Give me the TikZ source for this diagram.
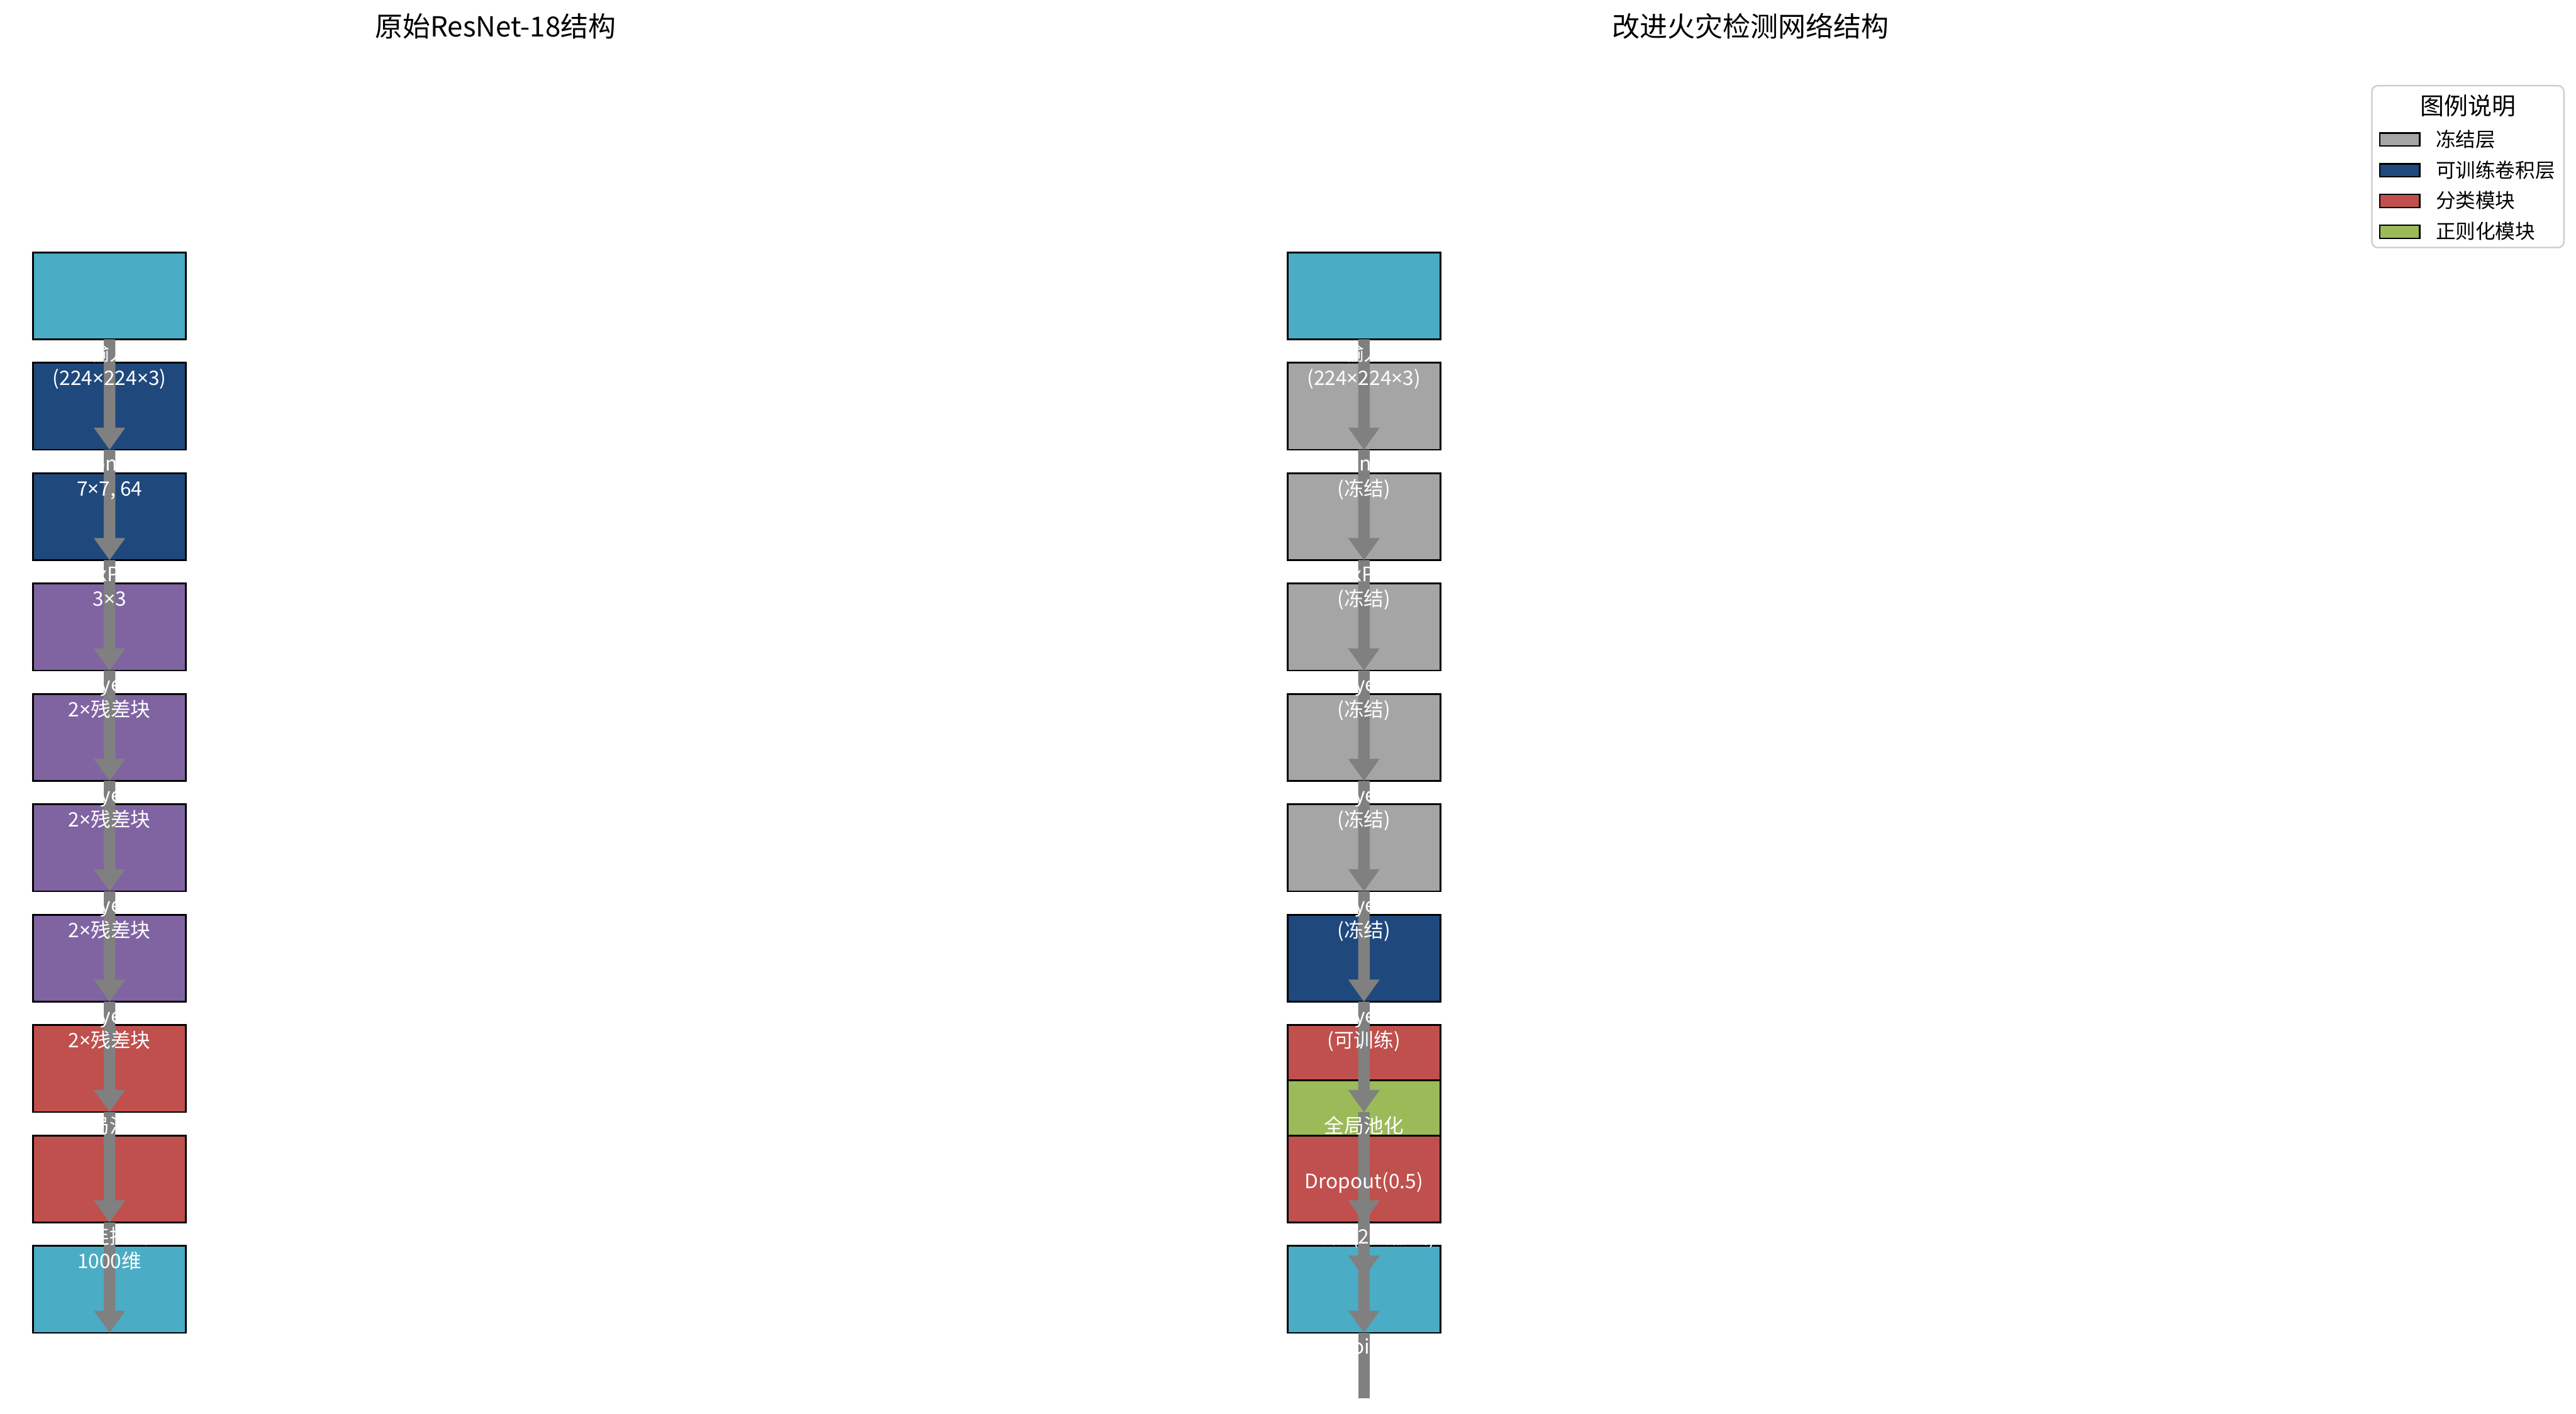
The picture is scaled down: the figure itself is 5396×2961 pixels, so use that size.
\documentclass[tikz,border=0pt]{standalone}
\usepackage{fontspec}
\setmainfont{Noto Sans CJK SC}
\newfontfamily\latinx{Noto Sans}
\usetikzlibrary{calc}
\definecolor{cCyan}{HTML}{4BACC6}
\definecolor{cBlue}{HTML}{1F497D}
\definecolor{cPurple}{HTML}{8064A2}
\definecolor{cRed}{HTML}{C0504D}
\definecolor{cGreen}{HTML}{9BBB59}
\definecolor{cGray}{HTML}{A5A5A5}
\definecolor{cFlow}{HTML}{808080}
\definecolor{cLegEdge}{HTML}{CCCCCC}
\newcommand\lblfont{\fontsize{41.7}{50}\selectfont}
\newcommand\ttlfont{\fontsize{58}{70}\selectfont}
\newcommand\legttlfont{\fontsize{50}{60}\selectfont}
\newcommand\tms{{\latinx ×}}
\newcommand\flowarr[2]{\fill[cFlow] ($(#1)+(-12,0)$) -- ($(#2)+(-12,-46)$) -- ($(#2)+(-33,-46)$) -- (#2) -- ($(#2)+(33,-46)$) -- ($(#2)+(12,-46)$) -- ($(#1)+(12,0)$) -- cycle;}
\begin{document}
\begin{tikzpicture}[x=1pt,y=-1pt,
  blk/.style={draw=black, line width=3.5pt, minimum width=320pt, minimum height=182pt, inner sep=0pt, outer sep=0pt},
  lab/.style={text=white, font=\lblfont, anchor=base, inner sep=0pt},
  ttl/.style={text=black, font=\ttlfont, anchor=base, inner sep=0pt},
  legpatch/.style={draw=black, line width=3.5pt, minimum width=83.5pt, minimum height=27.5pt, inner sep=0pt, outer sep=0pt},
  legtxt/.style={text=black, font=\lblfont, anchor=base west, inner sep=0pt},
  legttl/.style={text=black, font=\legttlfont, anchor=base, inner sep=0pt}]
\fill[white] (0,0) rectangle (5396,2961);
\useasboundingbox (0,0) rectangle (5396,2961);

% ---- titles
\node[ttl] (t1) at (1038,77) {原始ResNet-18结构};
\node[ttl] (t2) at (3667,77) {改进火灾检测网络结构};

% ---- left column boxes
\node[blk,fill=cCyan]   (l0) at (229.5,619.5) {};
\node[blk,fill=cBlue]   (l1) at (229.5,850.7) {};
\node[blk,fill=cBlue]   (l2) at (229.5,1081.9) {};
\node[blk,fill=cPurple] (l3) at (229.5,1313.1) {};
\node[blk,fill=cPurple] (l4) at (229.5,1544.3) {};
\node[blk,fill=cPurple] (l5) at (229.5,1775.5) {};
\node[blk,fill=cPurple] (l6) at (229.5,2006.7) {};
\node[blk,fill=cRed]    (l7) at (229.5,2237.9) {};
\node[blk,fill=cRed]    (l8) at (229.5,2469.1) {};
\node[blk,fill=cCyan]   (l9) at (229.5,2700.3) {};

% ---- right column boxes
\node[blk,fill=cCyan]  (r0) at (2857,619.5) {};
\node[blk,fill=cGray]  (r1) at (2857,850.7) {};
\node[blk,fill=cGray]  (r2) at (2857,1081.9) {};
\node[blk,fill=cGray]  (r3) at (2857,1313.1) {};
\node[blk,fill=cGray]  (r4) at (2857,1544.3) {};
\node[blk,fill=cGray]  (r5) at (2857,1775.5) {};
\node[blk,fill=cBlue]  (r6) at (2857,2006.7) {};
\node[blk,fill=cRed]   (r7) at (2857,2237.9) {};
\node[blk,fill=cGreen] (rd) at (2857,2353.5) {};
\node[blk,fill=cRed]   (r8) at (2857,2469.1) {};
\node[blk,fill=cCyan]  (r9) at (2857,2700.3) {};

% ---- left arrows
\flowarr{l0.south}{l1.south}
\flowarr{l1.south}{l2.south}
\flowarr{l2.south}{l3.south}
\flowarr{l3.south}{l4.south}
\flowarr{l4.south}{l5.south}
\flowarr{l5.south}{l6.south}
\flowarr{l6.south}{l7.south}
\flowarr{l7.south}{l8.south}
\flowarr{l8.south}{l9.south}

% ---- right arrows
\coordinate (rdtip) at ($(rd.south)+(0,231.2)$);
\coordinate (rend) at (2857,2929);
\flowarr{r0.south}{r1.south}
\flowarr{r1.south}{r2.south}
\flowarr{r2.south}{r3.south}
\flowarr{r3.south}{r4.south}
\flowarr{r4.south}{r5.south}
\flowarr{r5.south}{r6.south}
\flowarr{r6.south}{r7.south}
\flowarr{r7.south}{r8.south}
\flowarr{rd.south}{rdtip}
\flowarr{r8.south}{r9.south}
\fill[cFlow] ($(r9.south)+(-12,0)$) rectangle ($(rend)+(12,0)$);

% ---- left labels
\node[lab] (la0) at (229.5,755.2) {输入};
\node[lab] (lb0) at (229.5,807.2) {(224\tms{}224\tms{}3)};
\node[lab] (la1) at (229.5,986.4) {Conv1};
\node[lab] (lb1) at (229.5,1038.4) {7\tms{}7, 64};
\node[lab] (la2) at (229.5,1217.6) {MaxPool};
\node[lab] (lb2) at (229.5,1269.6) {3\tms{}3};
\node[lab] (la3) at (229.5,1448.8) {Layer1};
\node[lab] (lb3) at (229.5,1500.8) {2\tms{}残差块};
\node[lab] (la4) at (229.5,1680) {Layer2};
\node[lab] (lb4) at (229.5,1732) {2\tms{}残差块};
\node[lab] (la5) at (229.5,1911.2) {Layer3};
\node[lab] (lb5) at (229.5,1963.2) {2\tms{}残差块};
\node[lab] (la6) at (229.5,2142.4) {Layer4};
\node[lab] (lb6) at (229.5,2194.4) {2\tms{}残差块};
\node[lab] (la7) at (229.5,2373.6) {全局池化};
\node[lab] (la8) at (229.5,2604.8) {全连接层};
\node[lab] (lb8) at (229.5,2656.8) {1000维};

% ---- right labels
\node[lab] (ra0) at (2857,755.2) {输入};
\node[lab] (rb0) at (2857,807.2) {(224\tms{}224\tms{}3)};
\node[lab] (ra1) at (2857,986.4) {Conv1};
\node[lab] (rb1) at (2857,1038.4) {(冻结)};
\node[lab] (ra2) at (2857,1217.6) {MaxPool};
\node[lab] (rb2) at (2857,1269.6) {(冻结)};
\node[lab] (ra3) at (2857,1448.8) {Layer1};
\node[lab] (rb3) at (2857,1500.8) {(冻结)};
\node[lab] (ra4) at (2857,1680) {Layer2};
\node[lab] (rb4) at (2857,1732) {(冻结)};
\node[lab] (ra5) at (2857,1911.2) {Layer3};
\node[lab] (rb5) at (2857,1963.2) {(冻结)};
\node[lab] (ra6) at (2857,2142.4) {Layer4};
\node[lab] (rb6) at (2857,2194.4) {(可训练)};
\node[lab] (ra7) at (2857,2373.6) {全局池化};
\node[lab] (rad) at (2857,2489.2) {Dropout(0.5)};
\node[lab] (ra8) at (2857,2604.8) {全连接(2类输出)};
\node[lab] (ra9) at (2857,2836) {Sigmoid输出};

% ---- legend
\node[draw=cLegEdge, line width=3pt, rounded corners=12pt, fill=white, minimum width=402pt, minimum height=339pt, inner sep=0pt, outer sep=0pt] (leg) at (5169.5,349) {};
\node[legttl] (legt) at (5169.5,240) {图例说明};
\node[legpatch, fill=cGray]  (lg1) at (5026.5,292) {};
\node[legpatch, fill=cBlue]  (lg2) at (5026.5,356.5) {};
\node[legpatch, fill=cRed]   (lg3) at (5026.5,421) {};
\node[legpatch, fill=cGreen] (lg4) at (5026.5,485.5) {};
\node[legtxt] (lt1) at (5102,307) {冻结层};
\node[legtxt] (lt2) at (5102,371.5) {可训练卷积层};
\node[legtxt] (lt3) at (5102,436) {分类模块};
\node[legtxt] (lt4) at (5102,500.5) {正则化模块};
\end{tikzpicture}
\end{document}
